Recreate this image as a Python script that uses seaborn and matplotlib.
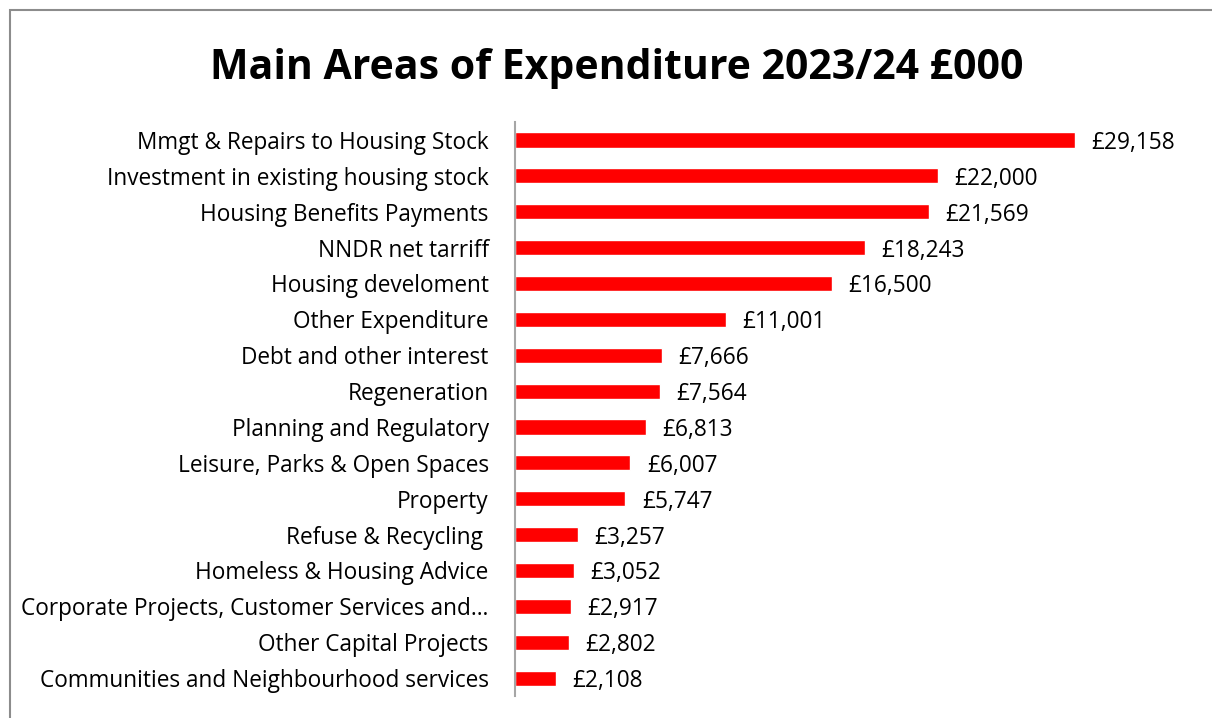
import matplotlib
matplotlib.use("Agg")
import matplotlib.pyplot as plt
import seaborn as sns
import pandas as pd
from matplotlib.patches import Rectangle

categories = [
    "Mmgt & Repairs to Housing Stock",
    "Investment in existing housing stock",
    "Housing Benefits Payments",
    "NNDR net tarriff",
    "Housing develoment",
    "Other Expenditure",
    "Debt and other interest",
    "Regeneration",
    "Planning and Regulatory",
    "Leisure, Parks & Open Spaces",
    "Property",
    "Refuse & Recycling ",
    "Homeless & Housing Advice",
    "Corporate Projects, Customer Services and\u2026",
    "Other Capital Projects",
    "Communities and Neighbourhood services",
]
values = [29158, 22000, 21569, 18243, 16500, 11001, 7666, 7564,
          6813, 6007, 5747, 3257, 3052, 2917, 2802, 2108]

df = pd.DataFrame({"category": categories, "value": values})

sns.set_theme(style="white")
plt.rcParams["font.family"] = ["Open Sans", "DejaVu Sans"]

fig = plt.figure(figsize=(12.12, 7.18), dpi=100)
ax = fig.add_axes([0.425, 0.0306, 0.507, 0.7994])

sns.barplot(data=df, x="value", y="category", color="#FF0000",
            saturation=1, width=0.42, ax=ax)

ax.set_xlim(0, 32000)
ax.set_ylim(len(categories) - 0.5, -0.5)
ax.set_xlabel("")
ax.set_ylabel("")
ax.set_xticks([])
ax.tick_params(axis="y", length=0, pad=19, labelsize=16.3, labelcolor="black")
for lbl in ax.get_yticklabels():
    lbl.set_verticalalignment("center_baseline")

for s in ["top", "right", "bottom"]:
    ax.spines[s].set_visible(False)
ax.spines["left"].set_color("#A6A6A6")
ax.spines["left"].set_linewidth(1.5)

for i, v in enumerate(values):
    ax.text(v + 850, i, f"\u00a3{v:,}", va="center_baseline", ha="left",
            fontsize=16.3, color="black")

fig.text(0.509, 0.912, "Main Areas of Expenditure 2023/24 \u00a3000",
         ha="center", va="center_baseline", fontsize=29.5, fontweight="bold",
         color="black")

# chart border
fig.patches.append(Rectangle((10 / 1212, -0.01), 1.02, 1 - 10 / 718 + 0.01,
                             transform=fig.transFigure, fill=False,
                             edgecolor="#8C8C8C", linewidth=1.5))

fig.savefig("out.png", dpi=100)
